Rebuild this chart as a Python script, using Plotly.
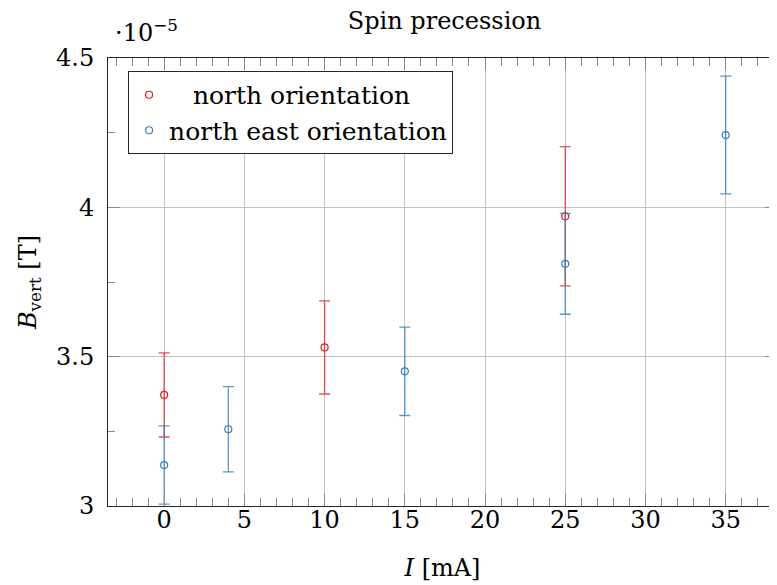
import plotly.graph_objects as go

# Data (B in units of 1e-5 T, current in mA)
north_I = [0, 10, 25]
north_B = [3.372, 3.531, 3.970]
north_err = [0.141, 0.156, 0.233]

ne_I = [0, 4, 15, 25, 35]
ne_B = [3.137, 3.257, 3.451, 3.811, 4.242]
ne_err = [0.131, 0.143, 0.148, 0.169, 0.197]

series_names = ["\u00a0\u00a0\u00a0north orientation", "north east orientation"]
x_ticks = [0, 5, 10, 15, 20, 25, 30, 35]
y_ticks = [3, 3.5, 4, 4.5]

RED = "#e41a1c"
BLUE = "#377eb8"
FONT = "DejaVu Serif"
FS = 24

# page body has an 8px margin; size the figure so it ends at the window edge
W, H = 769, 577
OFF = 8

fig = go.Figure()
fig.add_trace(go.Scatter(
    x=north_I, y=north_B, mode="markers", name=series_names[0],
    marker=dict(symbol="circle-open", size=7, color=RED, line=dict(width=1.2, color=RED)),
    error_y=dict(type="data", array=north_err, visible=True,
                 color="rgba(228,26,28,0.75)", thickness=1.3, width=5.5),
))
fig.add_trace(go.Scatter(
    x=ne_I, y=ne_B, mode="markers", name=series_names[1],
    marker=dict(symbol="circle-open", size=7, color=BLUE, line=dict(width=1.2, color=BLUE)),
    error_y=dict(type="data", array=ne_err, visible=True,
                 color="rgba(55,126,184,0.8)", thickness=1.3, width=5.5),
))

axis_common = dict(
    showline=True, linecolor="#262626", linewidth=1, mirror="ticks",
    ticks="inside", tickcolor="#8a8a8a", tickwidth=1,
    showgrid=True, gridcolor="#c4c4c4", gridwidth=1, zeroline=False,
    tickfont=dict(family=FONT, size=FS, color="black"),
)

fig.update_xaxes(
    **axis_common, range=[-3.5, 38.2], tickvals=x_ticks, ticklen=12,
    minor=dict(dtick=1, ticks="inside", ticklen=8, tickcolor="#8a8a8a", showgrid=False),
    ticklabelstandoff=-8,
    title=dict(text="<i>I</i> [mA]", font=dict(family=FONT, size=FS, color="black"), standoff=26),
)
fig.update_yaxes(
    **axis_common, range=[3, 4.5], tickvals=y_ticks, ticklen=12,
    minor=dict(dtick=0.25, ticks="inside", ticklen=7, tickcolor="#8a8a8a", showgrid=False),
    ticklabelstandoff=8,
    title=dict(text="<i>B</i><sub>vert</sub> [T]", font=dict(family=FONT, size=FS, color="black"), standoff=12),
)

fig.add_annotation(
    text="·10<sup>−5</sup>", xref="paper", yref="paper", x=0.008, y=1.02,
    xanchor="left", yanchor="bottom", showarrow=False,
    font=dict(family=FONT, size=FS, color="black"),
)

fig.update_layout(
    width=W, height=H,
    margin=dict(l=108 - OFF, r=0, t=58 - OFF, b=79),
    paper_bgcolor="white", plot_bgcolor="white",
    title=dict(text="Spin precession", x=(444.5 - OFF) / W, xanchor="center", xref="container",
               y=1 - (21 - OFF) / H, yanchor="middle", yref="container",
               font=dict(family=FONT, size=FS, color="black")),
    legend=dict(x=0.03, y=0.971, xanchor="left", yanchor="top",
                bordercolor="#262626", borderwidth=1, bgcolor="white",
                font=dict(family=FONT, size=25, color="black"), tracegroupgap=0),
    showlegend=True,
)

fig.write_html("out.html")
